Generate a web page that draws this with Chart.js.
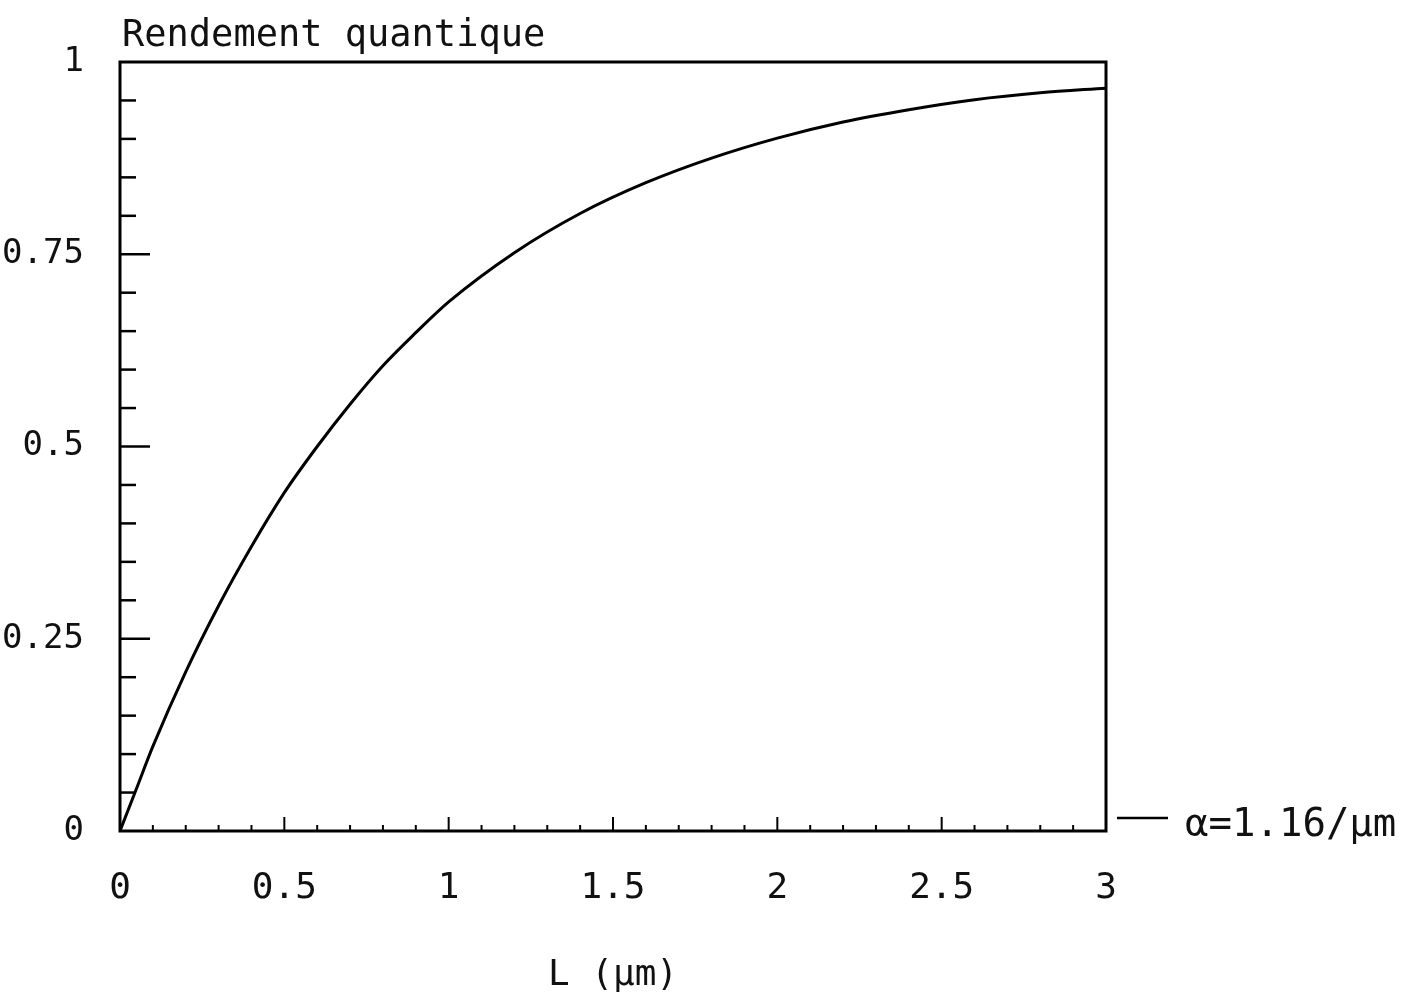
<!DOCTYPE html>
<html>
<head>
<meta charset="utf-8">
<script src="https://cdn.jsdelivr.net/npm/chart.js@4.4.1/dist/chart.umd.min.js"></script>
<style>
  body { margin: 0; background: #fff; }
  #wrap { width: 1413px; height: 1000px; }
</style>
</head>
<body>
<div id="wrap"><canvas id="rendement" width="1413" height="1000"></canvas></div>
<script>
// Epaisseur L (um) et rendement quantique
const epaisseurs = [0, 0.05, 0.1, 0.2, 0.3, 0.4, 0.5, 0.6, 0.7, 0.8, 0.9, 1.0, 1.2, 1.4, 1.6, 1.8, 2.0, 2.2, 2.4, 2.6, 2.8, 3.0];
const rendements = [0, 0.055, 0.11, 0.207, 0.293, 0.37, 0.44, 0.50, 0.555, 0.605, 0.648, 0.688, 0.752, 0.803, 0.843, 0.875, 0.901, 0.922, 0.938, 0.951, 0.96, 0.966];

const xTickLabels = ['0', '0.5', '1', '1.5', '2', '2.5', '3'];
const yTickLabels = ['0', '0.25', '0.5', '0.75', '1'];
const legende = 'α=1.16/µm';
const titreY = 'Rendement quantique';
const titreX = 'L (µm)';

const POLICE = "'DejaVu Sans Mono', 'Liberation Mono', monospace";

// cadre, petites graduations vers l'interieur, titre Y et legende
const tracePlotter = {
  id: 'tracePlotter',
  afterDraw(chart) {
    const ctx = chart.ctx;
    const a = chart.chartArea;
    const sx = chart.scales.x;
    const sy = chart.scales.y;
    ctx.save();
    ctx.strokeStyle = '#000';
    ctx.lineWidth = 3;
    ctx.strokeRect(a.left, a.top, a.right - a.left, a.bottom - a.top);

    // graduations Y tous les 0.05
    ctx.lineWidth = 2.5;
    for (let i = 1; i < 20; i++) {
      const y = sy.getPixelForValue(i * 0.05);
      const len = (i % 5 === 0) ? 30 : 16;
      ctx.beginPath();
      ctx.moveTo(a.left, y);
      ctx.lineTo(a.left + len, y);
      ctx.stroke();
    }
    // graduations X tous les 0.1
    ctx.lineWidth = 2;
    for (let i = 1; i < 30; i++) {
      const x = sx.getPixelForValue(i * 0.1);
      const len = (i % 5 === 0) ? 14 : 6;
      ctx.beginPath();
      ctx.moveTo(x, a.bottom);
      ctx.lineTo(x, a.bottom - len);
      ctx.stroke();
    }

    ctx.fillStyle = '#111';
    ctx.font = '37px ' + POLICE;
    ctx.textAlign = 'left';
    ctx.textBaseline = 'alphabetic';
    ctx.fillText(titreY, a.left + 2, a.top - 16);

    // legende de la serie
    const yLeg = sy.getPixelForValue(0) - 13;
    ctx.lineWidth = 2.5;
    ctx.beginPath();
    ctx.moveTo(a.right + 11, yLeg);
    ctx.lineTo(a.right + 62, yLeg);
    ctx.stroke();
    ctx.font = '39px ' + POLICE;
    ctx.textBaseline = 'middle';
    ctx.fillText(legende, a.right + 79, yLeg + 8);
    ctx.restore();
  }
};

const ctx = document.getElementById('rendement').getContext('2d');
new Chart(ctx, {
  type: 'line',
  data: {
    datasets: [{
      label: legende,
      data: epaisseurs.map((l, i) => ({ x: l, y: rendements[i] })),
      borderColor: '#000',
      borderWidth: 3,
      pointRadius: 0,
      cubicInterpolationMode: 'monotone',
      fill: false
    }]
  },
  options: {
    responsive: false,
    animation: false,
    layout: { padding: { top: 62, right: 307, bottom: 0, left: 0 } },
    plugins: {
      legend: { display: false },
      tooltip: { enabled: false }
    },
    scales: {
      x: {
        type: 'linear',
        min: 0,
        max: 3,
        grid: { display: false },
        border: { display: false },
        afterBuildTicks: s => { s.ticks = xTickLabels.map(v => ({ value: parseFloat(v) })); },
        afterFit: s => { s.height = 169; },
        ticks: {
          padding: 28,
          color: '#111',
          font: { family: POLICE, size: 36 },
          callback: (v, i) => xTickLabels[i]
        },
        title: {
          display: true,
          text: titreX,
          color: '#111',
          font: { family: POLICE, size: 36 },
          padding: { top: 0, bottom: 3 }
        }
      },
      y: {
        type: 'linear',
        min: 0,
        max: 1,
        grid: { display: false },
        border: { display: false },
        afterBuildTicks: s => { s.ticks = yTickLabels.map(v => ({ value: parseFloat(v) })); },
        afterFit: s => { s.width = 120; },
        ticks: {
          padding: 28,
          color: '#111',
          font: { family: POLICE, size: 34 },
          callback: (v, i) => yTickLabels[i]
        }
      }
    }
  },
  plugins: [tracePlotter]
});
</script>
</body>
</html>
